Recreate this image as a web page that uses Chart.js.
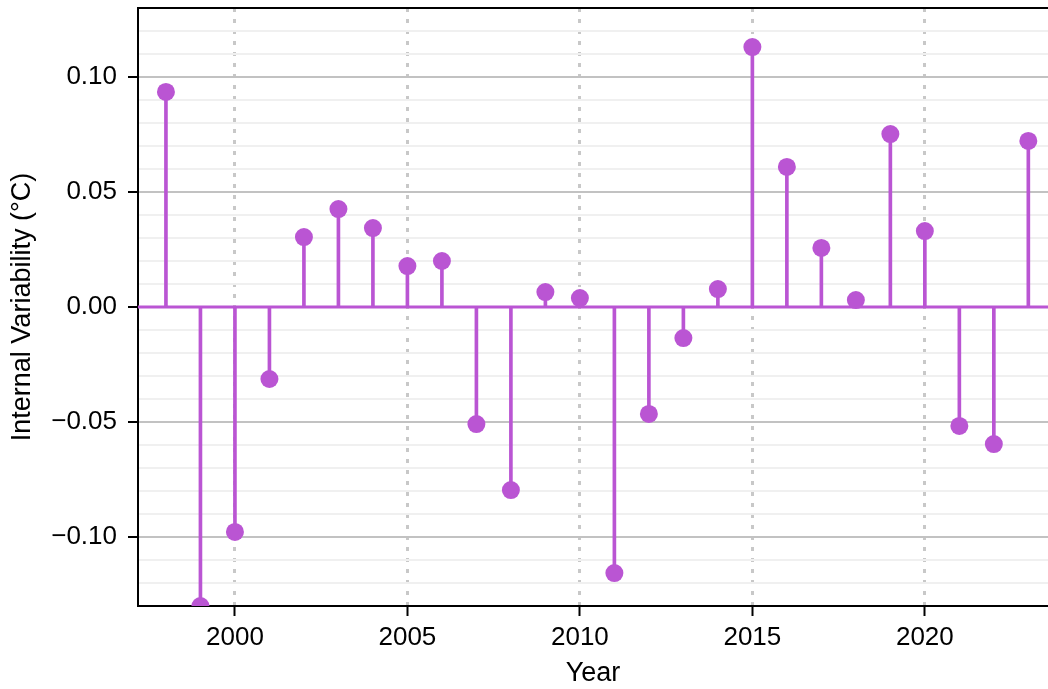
<!DOCTYPE html>
<html>
<head>
<meta charset="utf-8">
<script src="https://cdn.jsdelivr.net/npm/chart.js@4/dist/chart.umd.min.js"></script>
<style>
  html, body { margin: 0; padding: 0; background: #fff; overflow: hidden; }
  canvas { display: block; }
</style>
</head>
<body>
<canvas id="grafico" width="1048" height="689"></canvas>
<script>
// anos e variabilidade interna (°C)
const anos = [1998, 1999, 2000, 2001, 2002, 2003, 2004, 2005, 2006, 2007, 2008, 2009, 2010,
  2011, 2012, 2013, 2014, 2015, 2016, 2017, 2018, 2019, 2020, 2021, 2022, 2023]
const variabilidade = [0.0935, -0.130, -0.0978, -0.0313, 0.0304, 0.0426, 0.0343, 0.0178, 0.0200,
  -0.0509, -0.0796, 0.0065, 0.0039, -0.1157, -0.0465, -0.0135, 0.0078, 0.1130, 0.0609, 0.0257,
  0.0030, 0.0752, 0.0330, -0.0517, -0.0596, 0.0722]
const ticksAnos = [2000, 2005, 2010, 2015, 2020]
const limitesX = [1997.19, 2023.57]
const limitesY = [-0.13, 0.13]

const roxo = '#BA55D3'
const fonte = 'Helvetica, "Liberation Sans", Arial, sans-serif'

const pontos = anos.map((a, i) => ({ x: a, y: variabilidade[i] }))
const linhaZero = limitesX.map(a => ({ x: a, y: 0 }))

function ehMaior(v) {
  return Math.abs(Math.round(v * 100)) % 5 === 0
}

const bordaTopo = {
  id: 'bordaTopo',
  afterDraw(chart) {
    const { ctx, chartArea } = chart
    ctx.save()
    ctx.strokeStyle = '#000'
    ctx.lineWidth = 2
    ctx.beginPath()
    ctx.moveTo(chartArea.left - 1, chartArea.top)
    ctx.lineTo(chartArea.right, chartArea.top)
    ctx.stroke()
    ctx.restore()
  }
}

new Chart(document.getElementById('grafico').getContext('2d'), {
  data: {
    datasets: [
      {
        type: 'scatter',
        data: pontos,
        backgroundColor: roxo,
        borderWidth: 0,
        pointRadius: 9,
        order: 1
      },
      {
        type: 'bar',
        data: pontos,
        backgroundColor: roxo,
        barThickness: 3,
        order: 2
      },
      {
        type: 'line',
        data: linhaZero,
        borderColor: roxo,
        borderWidth: 3,
        pointRadius: 0,
        order: 3
      }
    ]
  },
  options: {
    responsive: false,
    animation: false,
    layout: { autoPadding: false, padding: { top: 8, right: 0, left: 0, bottom: 0 } },
    plugins: {
      legend: { display: false },
      tooltip: { enabled: false }
    },
    scales: {
      x: {
        type: 'linear',
        offset: false,
        min: limitesX[0],
        max: limitesX[1],
        afterBuildTicks: (scale) => { scale.ticks = ticksAnos.map(v => ({ value: v })) },
        afterFit: (scale) => {
          scale.height = 83
          scale.paddingLeft = 0
          scale.paddingRight = 0
        },
        ticks: {
          color: '#000',
          padding: 6,
          font: { family: fonte, size: 26 },
          callback: (v) => String(v)
        },
        grid: {
          offset: false,
          color: '#c8c8c8',
          lineWidth: 3,
          tickColor: '#000',
          tickLength: 10,
          tickWidth: 2
        },
        border: { display: true, color: '#000', width: 2, dash: [4, 7] },
        title: {
          display: true,
          text: 'Year',
          color: '#000',
          font: { family: fonte, size: 27, lineHeight: 1 },
          padding: { top: 0, bottom: 2 }
        }
      },
      y: {
        min: limitesY[0],
        max: limitesY[1],
        afterFit: (scale) => {
          scale.width = 138
          scale.paddingTop = 0
          scale.paddingBottom = 0
        },
        ticks: {
          stepSize: 0.01,
          color: '#000',
          padding: 11,
          autoSkip: false,
          font: { family: fonte, size: 26 },
          callback: (v) => {
            if (!ehMaior(v)) return ''
            const r = Math.round(v * 100) / 100
            if (r === 0) return '0.00'
            return (r < 0 ? '\u2212' : '') + Math.abs(r).toFixed(2)
          }
        },
        grid: {
          color: (ctx) => ehMaior(ctx.tick.value) ? '#c2c2c2' : '#f0f0f0',
          lineWidth: 2,
          tickColor: (ctx) => ehMaior(ctx.tick.value) ? '#000' : 'rgba(0,0,0,0)',
          tickLength: 10,
          tickWidth: 2
        },
        border: { display: true, color: '#000', width: 2 },
        title: {
          display: true,
          text: 'Internal Variability (°C)',
          color: '#000',
          font: { family: fonte, size: 27, lineHeight: 1 },
          padding: { top: 9, bottom: 0 }
        }
      }
    }
  },
  plugins: [bordaTopo]
})
</script>
</body>
</html>
